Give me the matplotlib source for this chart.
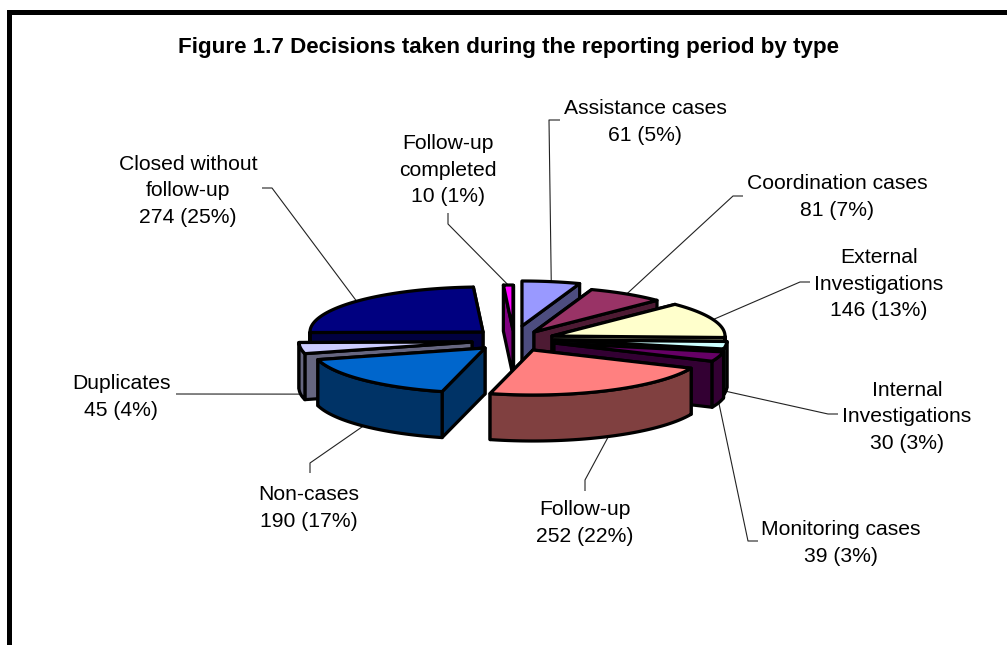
import numpy as np
import matplotlib
matplotlib.use("Agg")
import matplotlib.pyplot as plt
from matplotlib.patches import Polygon

# ---- data ----
categories = ["Assistance cases", "Coordination cases", "External\nInvestigations",
              "Internal\nInvestigations", "Monitoring cases", "Follow-up",
              "Non-cases", "Duplicates", "Closed without\nfollow-up",
              "Follow-up\ncompleted"]
values = [61, 81, 146, 30, 39, 252, 190, 45, 274, 10]
percents = [5, 7, 13, 3, 3, 22, 17, 4, 25, 1]
title = "Figure 1.7 Decisions taken during the reporting period by type"

# ---- style / layout (pixel space of the figure) ----
top_colors = ["#9999FF", "#993366", "#FFFFCC", "#CCFFFF", "#660066",
              "#FF8080", "#0066CC", "#CCCCFF", "#000080", "#FF00FF"]
side_colors = ["#4D4D80", "#4D1A33", "#808066", "#668080", "#330033",
               "#804040", "#003366", "#666680", "#000040", "#800080"]
apexes = [(522, 326), (534, 332), (552, 336), (554, 340), (554, 343),
          (533, 350), (485, 348), (472, 342), (483, 332), (513, 330)]
label_xy = [(645, 122), (837, 197), (879, 284), (907, 417), (841, 543),
            (585, 523), (309, 508), (121, 397), (188, 191), (448, 170)]
elbows = [[(549, 120), (560, 120)], [(733, 196), (743, 196)],
          [(800, 282), (810, 282)], [(828, 414), (838, 414)],
          [(748, 541), (758, 541)], [(585, 480), (585, 491)],
          [(310, 463), (310, 473)], [(176, 394), (176, 394)],
          [(272, 188), (262, 188)], [(448, 224), (448, 213)]]
draw_order = [8, 9, 0, 1, 2, 3, 4, 7, 6, 5]
RX, RY, H = 173, 45, 46
EDGE = 2.3
FONT = "Liberation Sans"

fig = plt.figure(figsize=(10.07, 6.45), dpi=100, facecolor="white")
ax = fig.add_axes([0, 0, 1, 1])
ax.set_xlim(0, 1007)
ax.set_ylim(645, 0)
ax.axis("off")

total = sum(values)
edges = np.concatenate([[0], np.cumsum(values)]) / total * 360.0


def pt(apex, deg):
    r = np.radians(deg)
    return np.array([apex[0] + RX * np.sin(r), apex[1] - RY * np.cos(r)])


def arc(apex, a, b):
    n = max(2, int(abs(b - a)) + 2)
    return np.array([pt(apex, d) for d in np.linspace(a, b, n)])


def poly(points, color, z):
    ax.add_patch(Polygon(points, closed=True, facecolor=color, edgecolor="black",
                         linewidth=EDGE, joinstyle="round", zorder=z))


down = np.array([0, H])
z = 2
for i in draw_order:
    a, b = edges[i], edges[i + 1]
    apex = np.array(apexes[i], float)
    faces = sorted([a, b], key=lambda d: pt(apex, d)[1])
    for d in faces:
        c = pt(apex, d)
        poly([apex, c, c + down, apex + down], side_colors[i], z)
        z += 1
    lo, hi = max(a, 90), min(b, 270)
    if hi > lo:
        curve = arc(apex, lo, hi)
        poly(np.vstack([curve, (curve + down)[::-1]]), side_colors[i], z)
        z += 1
    poly(np.vstack([[apex], arc(apex, a, b)]), top_colors[i], z)
    z += 1

# leader lines and labels
for i, (cat, val, pct) in enumerate(zip(categories, values, percents)):
    mid = (edges[i] + edges[i + 1]) / 2
    anchor = pt(apexes[i], mid)
    if 90 < mid < 270:
        anchor = anchor + down
    path = np.vstack([[anchor], elbows[i]])
    ax.plot(path[:, 0], path[:, 1], color="#222222", lw=0.8, zorder=1,
            solid_capstyle="butt")
    ax.text(*label_xy[i], f"{cat}\n{val} ({pct}%)", ha="center", va="center",
            family=FONT, fontsize=15.2, linespacing=1.53, color="black", zorder=100)

ax.text(509, 47, title, ha="center", va="center", family=FONT, fontsize=16.1,
        fontweight="bold", color="black", zorder=100)

# frame
ax.fill_between([7, 1007], 10, 15, color="black", lw=0, zorder=50)
ax.fill_between([7, 12], 10, 645, color="black", lw=0, zorder=50)

fig.savefig("out.png", dpi=100)
